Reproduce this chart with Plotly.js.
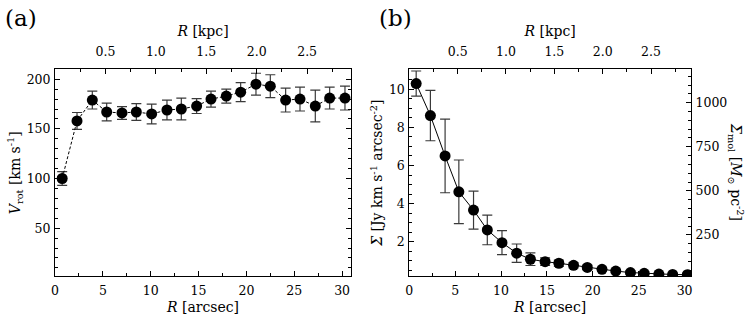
<!DOCTYPE html>
<html>
<head>
<meta charset="utf-8">
<script src="https://cdn.plot.ly/plotly-3.0.1.min.js"></script>
<style>body{margin:0;background:#fff}#chart{width:747px;height:332px}</style>
</head>
<body>
<div id="chart"></div>
<script>
// radii in arcsec (same for both panels)
var radius = [0.75, 2.3, 3.9, 5.4, 7.0, 8.5, 10.1, 11.7, 13.2, 14.8, 16.3, 17.9, 19.4, 21.0, 22.5, 24.1, 25.6, 27.2, 28.7, 30.3];

// (a) rotation curve
var vrot    = [100, 158, 179, 167, 166, 167, 165, 169, 170, 173, 180, 183, 187, 195, 193, 179, 180, 173, 181, 181];
var vrotErr = [7, 8.5, 9, 9, 6.5, 8.5, 10, 10, 11, 7.5, 8, 7, 9.5, 11, 11.5, 12, 12, 16, 11, 12];

// (b) surface density profile
var sigma    = [10.3, 8.62, 6.5, 4.62, 3.66, 2.62, 1.95, 1.4, 1.08, 0.95, 0.87, 0.76, 0.65, 0.55, 0.46, 0.38, 0.34, 0.3, 0.28, 0.27];
var sigmaErr = [0.66, 1.32, 1.93, 1.67, 1.0, 0.78, 0.63, 0.48, 0.33, 0.2, 0.16, 0.14, 0.12, 0.1, 0.09, 0.08, 0.07, 0.06, 0.05, 0.05];

var kpcPerArcsec = 0.0949;
var kpcTicks = [0.5, 1.0, 1.5, 2.0, 2.5];
var kpcLabels = ["0.5", "1.0", "1.5", "2.0", "2.5"];

var serif = "DejaVu Serif, serif";
var radiusKpc = radius.map(function (r) { return r * kpcPerArcsec; });

var vrotTrace = {
    x: radius, y: vrot,
    xaxis: "x", yaxis: "y",
    type: "scatter", mode: "lines+markers",
    line: {color: "black", width: 1, dash: "3px,2px"},
    marker: {color: "black", size: 11},
    error_y: {type: "data", array: vrotErr, color: "#3a3a3a", thickness: 1.2, width: 5},
    hoverinfo: "skip"
};

var sigmaTrace = {
    x: radius, y: sigma,
    xaxis: "x3", yaxis: "y3",
    type: "scatter", mode: "lines+markers",
    line: {color: "black", width: 1},
    marker: {color: "black", size: 11},
    error_y: {type: "data", array: sigmaErr, color: "#3a3a3a", thickness: 1.2, width: 5},
    hoverinfo: "skip"
};

// invisible traces so the kpc / molecular axes exist
var kpcA = {x: radiusKpc, y: vrot, xaxis: "x2", yaxis: "y", mode: "markers",
    marker: {opacity: 0}, hoverinfo: "skip", showlegend: false};
var kpcB = {x: radiusKpc, y: sigma, xaxis: "x4", yaxis: "y3", mode: "markers",
    marker: {opacity: 0}, hoverinfo: "skip", showlegend: false};
var molB = {x: radius, y: sigma.map(function (s) { return s * 108; }), xaxis: "x3", yaxis: "y4",
    mode: "markers", marker: {opacity: 0}, hoverinfo: "skip", showlegend: false};

var tickFont = {family: serif, size: 12.5, color: "black"};
var titleFont = {family: serif, size: 14, color: "black"};

function frameAxis(extra) {
    var ax = {
        showline: true, linecolor: "black", linewidth: 1,
        ticks: "inside", ticklen: 5, tickcolor: "black", tickwidth: 1,
        showgrid: false, zeroline: false, tickfont: tickFont,
        minor: {ticks: "inside", ticklen: 3, tickcolor: "black", showgrid: false}
    };
    for (var k in extra) ax[k] = extra[k];
    return ax;
}

var yDom = [1 - 276 / 332, 1 - 69.3 / 332];
var leftDom = [55 / 747, 351 / 747];
var rightDom = [409.3 / 747, 691 / 747];

var layout = {
    width: 747, height: 332,
    margin: {l: 0, r: 0, t: 0, b: 0},
    paper_bgcolor: "white", plot_bgcolor: "white",
    showlegend: false,
    font: {family: serif, color: "black"},
    xaxis: frameAxis({domain: leftDom, anchor: "y", range: [0, 30.93], dtick: 5, ticklabelstandoff: 3,
        minor: {dtick: 2.5, ticks: "inside", ticklen: 3, tickcolor: "black"},
        title: {text: "<i>R</i> [arcsec]", font: titleFont, standoff: 5}}),
    xaxis2: frameAxis({domain: leftDom, anchor: "y", overlaying: "x", side: "top", ticklabelstandoff: 7,
        range: [0, 30.93 * kpcPerArcsec], tickvals: kpcTicks, ticktext: kpcLabels,
        minor: {dtick: 0.25, ticks: "inside", ticklen: 3, tickcolor: "black"},
        title: {text: "<i>R</i> [kpc]", font: titleFont, standoff: 4}}),
    yaxis: frameAxis({domain: yDom, anchor: "x", range: [1.8, 210], tickvals: [50, 100, 150, 200],
        mirror: "ticks", ticklabelstandoff: 1,
        minor: {dtick: 10, ticks: "inside", ticklen: 3, tickcolor: "black"},
        title: {text: "<i>V</i><sub>rot</sub> [km s<sup>-1</sup>]", font: titleFont, standoff: 2}}),

    xaxis3: frameAxis({domain: rightDom, anchor: "y3", range: [0, 30.7], dtick: 5, ticklabelstandoff: 3,
        minor: {dtick: 2.5, ticks: "inside", ticklen: 3, tickcolor: "black"},
        title: {text: "<i>R</i> [arcsec]", font: titleFont, standoff: 5}}),
    xaxis4: frameAxis({domain: rightDom, anchor: "y3", overlaying: "x3", side: "top", ticklabelstandoff: 7,
        range: [0, 30.7 * kpcPerArcsec], tickvals: kpcTicks, ticktext: kpcLabels,
        minor: {dtick: 0.25, ticks: "inside", ticklen: 3, tickcolor: "black"},
        title: {text: "<i>R</i> [kpc]", font: titleFont, standoff: 4}}),
    yaxis3: frameAxis({domain: yDom, anchor: "x3", range: [0.2, 11.05], tickvals: [2, 4, 6, 8, 10],
        ticklabelstandoff: 1,
        minor: {dtick: 0.5, ticks: "inside", ticklen: 3, tickcolor: "black"},
        title: {text: "<i>Σ</i> [Jy km s<sup>-1</sup> arcsec<sup>-2</sup>]", font: titleFont, standoff: 2}}),
    yaxis4: frameAxis({domain: yDom, anchor: "x3", overlaying: "y3", side: "right",
        range: [16.5, 1190], tickvals: [250, 500, 750, 1000], ticklabelstandoff: 1,
        minor: {dtick: 50, ticks: "inside", ticklen: 3, tickcolor: "black"}}),

    annotations: [
        {text: "(a)", xref: "paper", yref: "paper", x: 3 / 747, y: 1 - 3 / 332,
         xanchor: "left", yanchor: "top", showarrow: false, font: {family: serif, size: 23, color: "black"}},
        {text: "(b)", xref: "paper", yref: "paper", x: 377 / 747, y: 1 - 3 / 332,
         xanchor: "left", yanchor: "top", showarrow: false, font: {family: serif, size: 23, color: "black"}},
        {text: "<i>Σ</i><sub>mol</sub> [<i>M</i><sub>⊙</sub> pc<sup>-2</sup>]", xref: "paper", yref: "paper",
         x: 736 / 747, y: 1 - 172 / 332, textangle: 90, showarrow: false,
         xanchor: "center", yanchor: "middle", font: titleFont}
    ]
};

Plotly.newPlot("chart", [vrotTrace, sigmaTrace, kpcA, kpcB, molB], layout, {displayModeBar: false, staticPlot: true});
</script>
</body>
</html>
